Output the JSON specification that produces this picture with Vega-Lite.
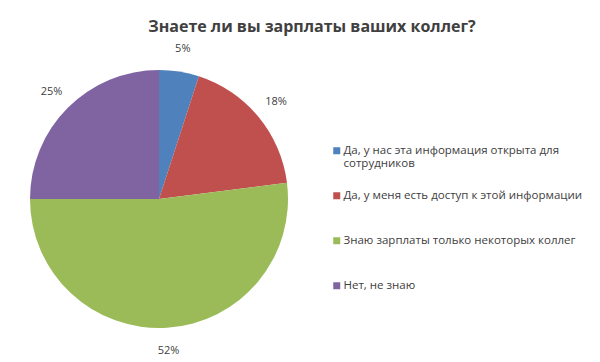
{
  "$schema": "https://vega.github.io/schema/vega-lite/v6.json",
  "width": 318,
  "height": 300,
  "autosize": {"type": "none"},
  "padding": {"left": 0, "top": 49, "right": 282, "bottom": 13},
  "background": "white",
  "title": {
    "text": "Знаете ли вы зарплаты ваших коллег?",
    "font": "Open Sans",
    "fontSize": 16,
    "fontWeight": "bold",
    "color": "#404040",
    "anchor": "middle",
    "dx": 153,
    "offset": 8
  },
  "data": {
    "values": [
      {"order": 1, "category": "Да, у нас эта информация открыта для сотрудников", "value": 5, "label": "5%"},
      {"order": 2, "category": "Да, у меня есть доступ к этой информации", "value": 18, "label": "18%"},
      {"order": 3, "category": "Знаю зарплаты только некоторых коллег", "value": 52, "label": "52%"},
      {"order": 4, "category": "Нет, не знаю", "value": 25, "label": "25%"}
    ]
  },
  "encoding": {
    "theta": {"field": "value", "type": "quantitative", "stack": true},
    "order": {"field": "order", "type": "quantitative"}
  },
  "layer": [
    {
      "mark": {"type": "arc", "outerRadius": 129},
      "encoding": {
        "color": {
          "field": "category",
          "type": "nominal",
          "sort": {"field": "order"},
          "scale": {
            "domain": [
              "Да, у нас эта информация открыта для сотрудников",
              "Да, у меня есть доступ к этой информации",
              "Знаю зарплаты только некоторых коллег",
              "Нет, не знаю"
            ],
            "range": ["#4F81BD", "#C0504D", "#9BBB59", "#8064A2"]
          },
          "legend": {
            "title": null,
            "orient": "none",
            "legendX": 331,
            "legendY": 96,
            "columns": 1,
            "gridAlign": "all",
            "symbolType": "square",
            "symbolSize": 49,
            "symbolStrokeWidth": 0,
            "labelFont": "Open Sans",
            "labelFontSize": 11.5,
            "labelColor": "#404040",
            "labelLimit": 300,
            "labelOffset": 1,
            "rowPadding": 19,
            "labelExpr": "datum.label == 'Да, у нас эта информация открыта для сотрудников' ? ['Да, у нас эта информация открыта для', 'сотрудников'] : datum.label"
          }
        }
      }
    },
    {
      "mark": {"type": "text", "radius": 152, "font": "Open Sans", "fontSize": 11, "color": "#404040"},
      "encoding": {
        "text": {"field": "label", "type": "nominal"}
      }
    }
  ]
}
